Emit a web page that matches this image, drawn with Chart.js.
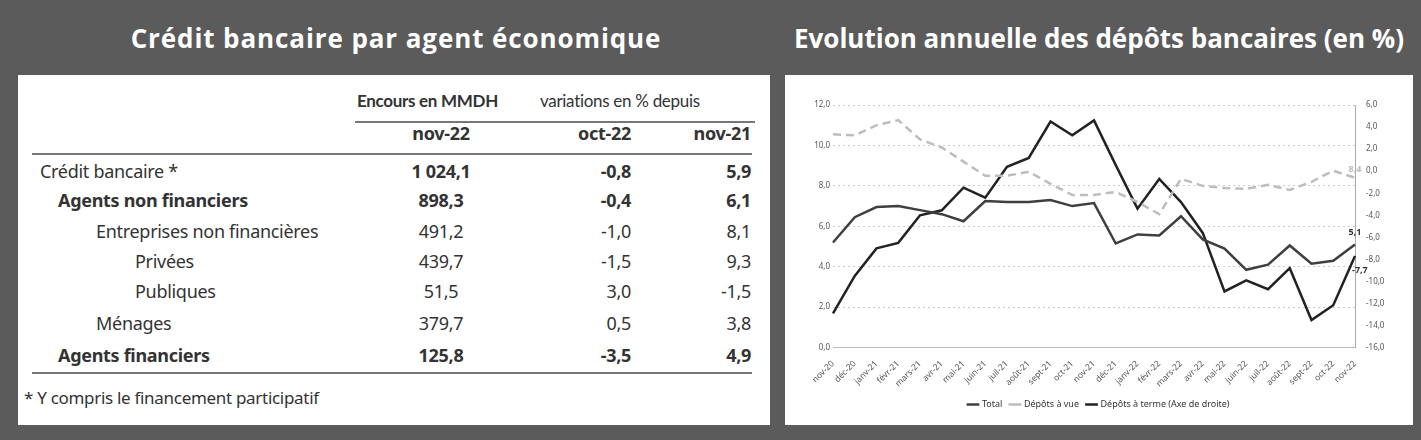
<!DOCTYPE html>
<html><head><meta charset="utf-8">
<script src="https://cdn.jsdelivr.net/npm/chart.js@4"></script>
<style>
body{margin:0;width:1421px;height:440px;background:#5b5b5b;position:relative;overflow:hidden;font-family:Lato,"Noto Sans",sans-serif}
.h{position:absolute;top:20px;color:#fff;font-weight:bold;font-size:26px;font-family:"Open Sans",Lato,sans-serif;text-align:center}
.box{position:absolute;background:#fff}
.t{position:absolute;font-size:18px;color:#333;white-space:nowrap;font-family:"Noto Sans",Lato,sans-serif;letter-spacing:-0.3px}
.b{font-weight:bold}
.r{text-align:right}
.c{text-align:center}
.ln{position:absolute;height:2px;background:#777}
</style></head><body>
<div class="h" style="left:96px;width:600px;letter-spacing:0.9px">Crédit bancaire par agent économique</div>
<div class="h" style="left:785px;width:628px">Evolution annuelle des dépôts bancaires (en %)</div>
<div class="box" style="left:18px;top:75px;width:752px;height:350px" id="tbl"></div>
<div class="box" style="left:785px;top:75px;width:628px;height:350px"><canvas id="c" width="628" height="350"></canvas></div>
<script>
// Table data
const rowLabels=["Crédit bancaire *","Agents non financiers","Entreprises non financières","Privées","Publiques","Ménages","Agents financiers"];
const rowIndent=[22,40,78,117,117,78,40];
const rowBold=[false,true,false,false,false,false,true];
const encoursNov22=["1 024,1","898,3","491,2","439,7","51,5","379,7","125,8"];
const varOct22=["-0,8","-0,4","-1,0","-1,5","3,0","0,5","-3,5"];
const varNov21=["5,9","6,1","8,1","9,3","-1,5","3,8","4,9"];
const rowY=[84,113,144,174,204,236,268];
const tbl=document.getElementById('tbl');
function add(html,cls,style){const d=document.createElement('div');d.className='t '+cls;d.style.cssText=style;d.textContent=html;tbl.appendChild(d);}
add("Encours en MMDH","b","left:339px;top:15px;font-size:17px;font-family:Lato");
add("variations en % depuis","","left:522px;top:15px;font-size:17px;font-family:Lato");
add("nov-22","b c","left:373px;top:46px;width:100px");
add("oct-22","b r","left:513px;top:46px;width:100px");
add("nov-21","b r","left:633px;top:46px;width:100px");
[[337,46,400],[14,78,720],[14,297,720]].forEach(([x,y,w])=>{const d=document.createElement('div');d.className='ln';d.style.cssText=`left:${x}px;top:${y}px;width:${w}px`;tbl.appendChild(d);});
rowLabels.forEach((l,i)=>{
  const bold=rowBold[i]||i===0?'b ':'';
  add(l,(rowBold[i]?'b':''),`left:${rowIndent[i]}px;top:${rowY[i]}px`);
  add(encoursNov22[i],bold+'c',`left:373px;top:${rowY[i]}px;width:100px`);
  add(varOct22[i],bold+'r',`left:513px;top:${rowY[i]}px;width:100px`);
  add(varNov21[i],bold+'r',`left:633px;top:${rowY[i]}px;width:100px`);
});
add("* Y compris le financement participatif","","left:6px;top:311px;font-size:17px");

// Chart data
const months=["nov-20","déc-20","janv-21","févr-21","mars-21","avr-21","mai-21","juin-21","juil-21","août-21","sept-21","oct-21","nov-21","déc-21","janv-22","févr-22","mars-22","avr-22","mai-22","juin-22","juil-22","août-22","sept-22","oct-22","nov-22"];
const total=[5.2,6.45,6.95,7.0,6.8,6.6,6.25,7.25,7.2,7.2,7.3,7.0,7.15,5.15,5.6,5.55,6.5,5.35,4.9,3.85,4.1,5.05,4.15,4.3,5.1];
const depotsVue=[10.55,10.5,11.0,11.25,10.3,9.9,9.2,8.5,8.5,8.7,8.1,7.55,7.55,7.7,7.2,6.6,8.35,8.0,7.9,7.85,8.05,7.8,8.2,8.75,8.4];
const depotsTerme=[-12.9,-9.5,-7.0,-6.5,-4.0,-3.55,-1.5,-2.4,0.4,1.2,4.5,3.25,4.6,0.55,-3.4,-0.7,-2.8,-5.6,-10.9,-9.9,-10.7,-8.8,-13.5,-12.15,-7.7];
const fmt=v=>v.toFixed(1).replace('.',',');
const endLabels={id:'endLabels',afterDatasetsDraw(ch){
  const c=ch.ctx,x=ch.scales.x,yl=ch.scales.y,yr=ch.scales.y2,n=months.length-1;
  c.save();c.font='bold 9px "Noto Sans"';c.textAlign='center';
  c.fillStyle='#333';c.fillText(fmt(total[n]),x.getPixelForValue(n),yl.getPixelForValue(total[n])-12);
  c.fillStyle='#bbb';c.fillText(fmt(depotsVue[n]),x.getPixelForValue(n),yl.getPixelForValue(depotsVue[n])-8);
  c.fillStyle='#333';c.textAlign='left';c.fillText(fmt(depotsTerme[n]),x.getPixelForValue(n)-3,yr.getPixelForValue(depotsTerme[n])+14);
  c.restore();}};
new Chart(document.getElementById('c'),{type:'line',
 data:{labels:months,datasets:[
  {label:'Total',data:total,borderColor:'#3f3f3f',borderWidth:2.5,pointRadius:0,yAxisID:'y',tension:0},
  {label:'Dépôts à vue',data:depotsVue,borderColor:'#bdbdbd',borderDash:[8,5],borderWidth:2.5,pointRadius:0,yAxisID:'y',tension:0},
  {label:'Dépôts à terme (Axe de droite)',data:depotsTerme,borderColor:'#222',borderWidth:2.5,pointRadius:0,yAxisID:'y2',tension:0}]},
 options:{responsive:false,animation:false,
  layout:{padding:{top:30,left:0,right:0,bottom:6}},
  plugins:{legend:{position:'bottom',labels:{usePointStyle:true,pointStyle:'line',boxWidth:34,color:'#333',font:{size:9,family:'"Noto Sans"'},padding:8}},tooltip:{enabled:false}},
  scales:{
   x:{grid:{display:false},border:{color:'#bbb'},ticks:{maxRotation:45,minRotation:45,color:'#555',font:{size:8.5,family:'"Noto Sans"'},autoSkip:false}},
   y:{min:0,max:12,position:'left',afterFit(s){s.width=48},ticks:{stepSize:2,callback:fmt,color:'#555',font:{size:8,family:'"Noto Sans"'}},grid:{color:'#ccc',tickLength:0,drawTicks:false},border:{display:false,dash:[2,3]}},
   y2:{min:-16,max:6,position:'right',afterFit(s){s.width=58},ticks:{stepSize:2,callback:fmt,color:'#555',font:{size:8,family:'"Noto Sans"'}},grid:{display:false,drawOnChartArea:false},border:{color:'#aaa'}}
  }},
 plugins:[endLabels]});
</script></body></html>
